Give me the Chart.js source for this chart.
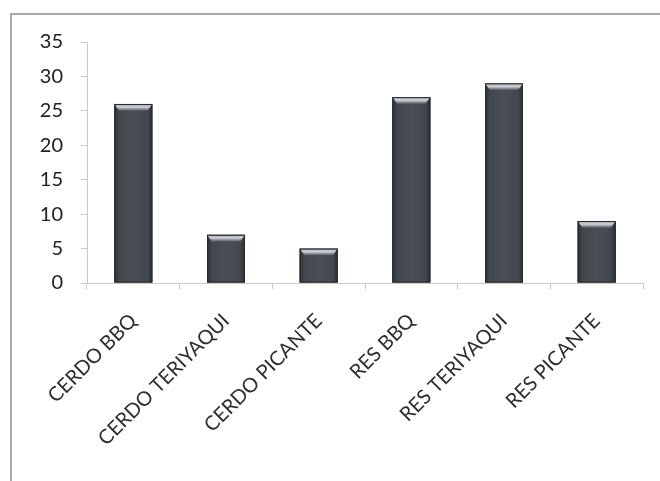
<!DOCTYPE html>
<html>
<head>
<meta charset="utf-8">
<script src="https://cdn.jsdelivr.net/npm/chart.js@4.4.1/dist/chart.umd.min.js"></script>
<style>
  html, body { margin: 0; padding: 0; background: #fff; }
  #wrap { position: relative; width: 660px; height: 481px; overflow: hidden; }
  #frame { position: absolute; left: 10px; top: 13px; width: 700px; height: 500px;
           border-left: 2px solid #a9a9b2; border-top: 2px solid #a9a9b2; }
  canvas { position: absolute; left: 0; top: 0; }
</style>
</head>
<body>
<div id="wrap">
  <div id="frame"></div>
  <canvas id="ventas" width="660" height="481"></canvas>
</div>
<script>
const categorias = ['CERDO BBQ', 'CERDO TERIYAQUI', 'CERDO PICANTE', 'RES BBQ', 'RES TERIYAQUI', 'RES PICANTE'];
const cantidades = [26, 7, 5, 27, 29, 9];
const yMax = 35;
const yPaso = 5;

// bevel look for each bar: dark sides, lighter middle and a shiny cap on top
const bisel = {
  id: 'bisel',
  afterDatasetsDraw(chart) {
    const ctx = chart.ctx;
    chart.getDatasetMeta(0).data.forEach(bar => {
      const left = bar.x - bar.width / 2;
      const right = bar.x + bar.width / 2;
      const top = bar.y;
      const base = bar.base;
      const g = ctx.createLinearGradient(left, 0, right, 0);
      g.addColorStop(0, '#2a2e32');
      g.addColorStop(0.12, '#42474d');
      g.addColorStop(0.5, '#4a4f55');
      g.addColorStop(0.88, '#42474d');
      g.addColorStop(1, '#2a2e32');
      ctx.save();
      ctx.fillStyle = g;
      ctx.fillRect(left, top, right - left, base - top);
      // top cap
      const cap = ctx.createLinearGradient(0, top, 0, top + 7);
      cap.addColorStop(0, '#9ea3aa');
      cap.addColorStop(0.45, '#cfd3d8');
      cap.addColorStop(1, '#484d53');
      ctx.fillStyle = cap;
      ctx.beginPath();
      ctx.moveTo(left, top);
      ctx.lineTo(right, top);
      ctx.lineTo(right - 5, top + 7);
      ctx.lineTo(left + 5, top + 7);
      ctx.closePath();
      ctx.fill();
      ctx.strokeStyle = '#26292d';
      ctx.lineWidth = 1;
      ctx.strokeRect(left + 0.5, top + 0.5, right - left - 1, base - top - 1);
      ctx.restore();
    });
  }
};

new Chart(document.getElementById('ventas'), {
  type: 'bar',
  data: {
    labels: categorias,
    datasets: [{
      data: cantidades,
      backgroundColor: '#44494f',
      borderWidth: 0,
      barPercentage: 0.41,
      categoryPercentage: 1
    }]
  },
  options: {
    responsive: false,
    animation: false,
    layout: { padding: { top: 42, right: 17, left: 0, bottom: 0 } },
    plugins: {
      legend: { display: false },
      tooltip: { enabled: false }
    },
    scales: {
      y: {
        min: 0,
        max: yMax,
        ticks: { stepSize: yPaso, color: '#222', padding: 18, font: { family: 'Lato', size: 20 } },
        grid: { drawOnChartArea: false, drawTicks: true, tickLength: 6, color: '#c8c8c8' },
        border: { color: '#c8c8c8', width: 1 },
        afterFit: s => { s.width = 87; }
      },
      x: {
        ticks: { minRotation: 45, maxRotation: 45, color: '#2e2e2e', padding: 20, font: { family: 'Lato', size: 20 } },
        grid: { drawOnChartArea: false, drawTicks: true, tickLength: 6, color: '#c8c8c8', offset: true },
        border: { color: '#c8c8c8', width: 1 },
        afterFit: s => { s.height = 198; }
      }
    }
  },
  plugins: [bisel]
});
</script>
</body>
</html>
